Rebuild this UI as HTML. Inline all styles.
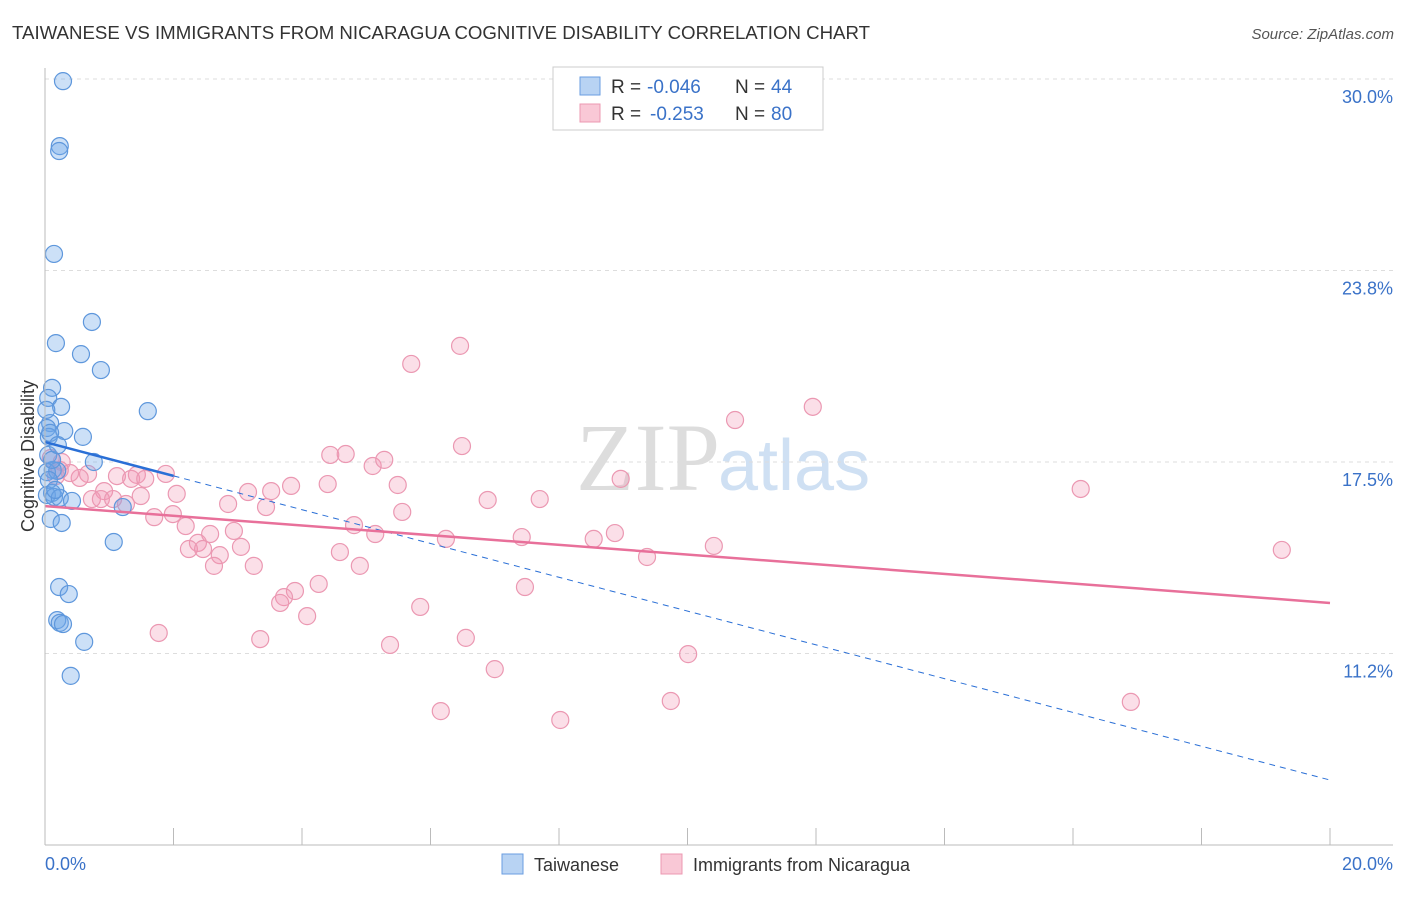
<!DOCTYPE html>
<html><head><meta charset="utf-8"><style>
body{margin:0;background:#fff;font-family:"Liberation Sans",sans-serif}
svg text{font-family:"Liberation Sans",sans-serif}
</style></head><body>
<svg width="1406" height="892" id="c">
<text x="12" y="39" font-size="18" fill="#333" textLength="858" lengthAdjust="spacingAndGlyphs">TAIWANESE VS IMMIGRANTS FROM NICARAGUA COGNITIVE DISABILITY CORRELATION CHART</text>
<text x="1394" y="39" font-size="15" fill="#555" font-style="italic" text-anchor="end">Source: ZipAtlas.com</text>
<text x="720" y="490" font-size="96" fill="#ddd" text-anchor="end" style="font-family:'Liberation Serif',serif">ZIP</text>
<text x="718" y="490" font-size="72" fill="#cfe0f3">atlas</text>
<text transform="translate(34,456) rotate(-90)" font-size="18" fill="#333" text-anchor="middle">Cognitive Disability</text>
<g id="grid"></g><g id="pts"></g><g id="lines"></g>
<line x1="45" y1="68" x2="45" y2="845" stroke="#bbb"/>
<line x1="45" y1="845" x2="1393" y2="845" stroke="#bbb"/>
<text x="45" y="870" font-size="18" fill="#3a72c8">0.0%</text>
<text x="1393" y="870" font-size="18" fill="#3a72c8" text-anchor="end">20.0%</text>
<g>
<rect x="553" y="67" width="270" height="63" fill="#fff" stroke="#ccc"/>
<rect x="580" y="77" width="20" height="18" fill="#b8d3f3" stroke="#6a9ee0"/>
<rect x="580" y="104" width="20" height="18" fill="#f9c8d6" stroke="#ec98b2"/>
<text x="611" y="93" font-size="19" fill="#333">R =</text>
<text x="647" y="93" font-size="19" fill="#3a72c8">-0.046</text>
<text x="735" y="93" font-size="19" fill="#333">N =</text>
<text x="771" y="93" font-size="19" fill="#3a72c8">44</text>
<text x="611" y="120" font-size="19" fill="#333">R =</text>
<text x="650" y="120" font-size="19" fill="#3a72c8">-0.253</text>
<text x="735" y="120" font-size="19" fill="#333">N =</text>
<text x="771" y="120" font-size="19" fill="#3a72c8">80</text>
</g>
<g>
<rect x="502" y="854" width="21" height="20" fill="#b8d3f3" stroke="#6a9ee0"/>
<text x="534" y="871" font-size="18" fill="#333">Taiwanese</text>
<rect x="661" y="854" width="21" height="20" fill="#f9c8d6" stroke="#ec98b2"/>
<text x="693" y="871" font-size="18" fill="#333">Immigrants from Nicaragua</text>
</g>
</svg>
<script>
const yTicks=[30.0,23.8,17.5,11.2];
const yTickVals=[30,23.75,17.5,11.25];
const xTickVals=[0,2,4,6,8,10,12,14,16,18,20];
const blueX=[0.28,0.23,0.22,0.14,0.73,0.17,0.56,0.87,0.11,0.05,0.25,1.60,0.08,0.03,0.30,0.59,0.06,0.76,0.12,0.03,0.19,0.06,0.11,0.03,0.14,0.23,0.42,1.21,0.09,0.26,1.07,0.22,0.37,0.19,0.23,0.28,0.61,0.40,0.08,0.05,0.16,0.02,0.11,0.20];
const blueY=[29.93,27.81,27.65,24.29,22.07,21.38,21.02,20.50,19.92,19.59,19.30,19.16,18.77,18.61,18.51,18.32,18.32,17.50,17.24,17.17,17.21,16.91,16.49,16.42,16.36,16.33,16.23,16.03,15.64,15.51,14.89,13.42,13.19,12.34,12.25,12.21,11.63,10.52,18.45,17.73,16.59,19.20,17.57,18.05];
const pinkX=[6.46,5.70,10.74,11.95,6.49,4.44,4.68,5.10,5.28,1.88,1.43,1.12,1.34,1.56,0.67,0.54,0.39,0.26,0.09,0.17,8.96,16.12,3.83,3.52,3.16,4.40,5.49,2.05,0.92,0.73,0.87,1.06,1.26,1.49,6.89,7.70,2.85,3.44,5.56,1.70,1.99,4.81,2.19,2.94,2.57,5.14,7.42,8.87,8.54,6.24,2.38,2.24,2.46,3.05,4.59,2.72,10.41,9.37,19.25,3.25,2.63,4.90,4.26,3.89,3.72,3.66,7.47,5.84,4.08,1.77,3.35,6.55,5.37,10.01,7.00,9.74,6.16,8.02,16.90,0.23];
const pinkY=[21.29,20.70,18.87,19.30,18.02,17.73,17.76,17.37,17.57,17.11,17.08,17.04,16.95,16.95,17.11,16.98,17.14,17.50,17.63,17.04,16.95,16.62,16.72,16.55,16.52,16.78,16.75,16.46,16.55,16.29,16.29,16.29,16.13,16.39,16.26,16.29,16.13,16.03,15.87,15.70,15.80,15.44,15.41,15.25,15.15,15.15,15.05,15.18,14.99,14.99,14.86,14.66,14.66,14.73,14.56,14.46,14.76,14.40,14.63,14.11,14.11,14.11,13.52,13.29,13.09,12.90,13.42,12.77,12.47,11.92,11.72,11.76,11.53,11.23,10.74,9.70,9.37,9.08,9.67,17.24];
const blueTrend=[18.15,7.12];
const pinkTrend=[16.06,12.9];
const X=v=>45+v/20*1285, Y=v=>79+(30-v)/25*766;
const NS='http://www.w3.org/2000/svg';
function mk(tag,attrs,parent){const e=document.createElementNS(NS,tag);for(const k in attrs)e.setAttribute(k,attrs[k]);document.getElementById(parent).appendChild(e);return e;}
yTickVals.forEach((v,i)=>{
 const l=mk('line',{x1:45,x2:1393,y1:Y(v),y2:Y(v),stroke:'#ddd','stroke-dasharray':'4,4'},'grid');
 
 
 const t=mk('text',{x:1393,y:Y(v)+24,'font-size':18,fill:'#3a72c8','text-anchor':'end'},'grid');
 t.textContent=yTicks[i].toFixed(1)+'%';
 
 
});
xTickVals.forEach(v=>{
 const l=mk('line',{x1:X(v),x2:X(v),y1:828,y2:845,stroke:'#bbb'},'grid');
 
 
});
pinkX.forEach((x,i)=>{
 const c=mk('circle',{cx:X(x),cy:Y(pinkY[i]),r:8.5,fill:'rgba(242,150,178,0.3)',stroke:'#eb98b2','stroke-width':1.2},'pts');
 
 
});
blueX.forEach((x,i)=>{
 const c=mk('circle',{cx:X(x),cy:Y(blueY[i]),r:8.5,fill:'rgba(110,165,232,0.35)',stroke:'#5e97dc','stroke-width':1.2},'pts');
 
 
});
const bAt=v=>blueTrend[0]+(blueTrend[1]-blueTrend[0])*v/20;
let l=mk('line',{x1:X(0),y1:Y(bAt(0)),x2:X(2),y2:Y(bAt(2)),stroke:'#2a6fd6','stroke-width':2.5},'lines');


l=mk('line',{x1:X(2),y1:Y(bAt(2)),x2:X(20),y2:Y(bAt(20)),stroke:'#2a6fd6','stroke-width':1,'stroke-dasharray':'6,5'},'lines');


l=mk('line',{x1:X(0),y1:Y(pinkTrend[0]),x2:X(20),y2:Y(pinkTrend[1]),stroke:'#e8709a','stroke-width':2.5},'lines');


</script>
</body></html>
